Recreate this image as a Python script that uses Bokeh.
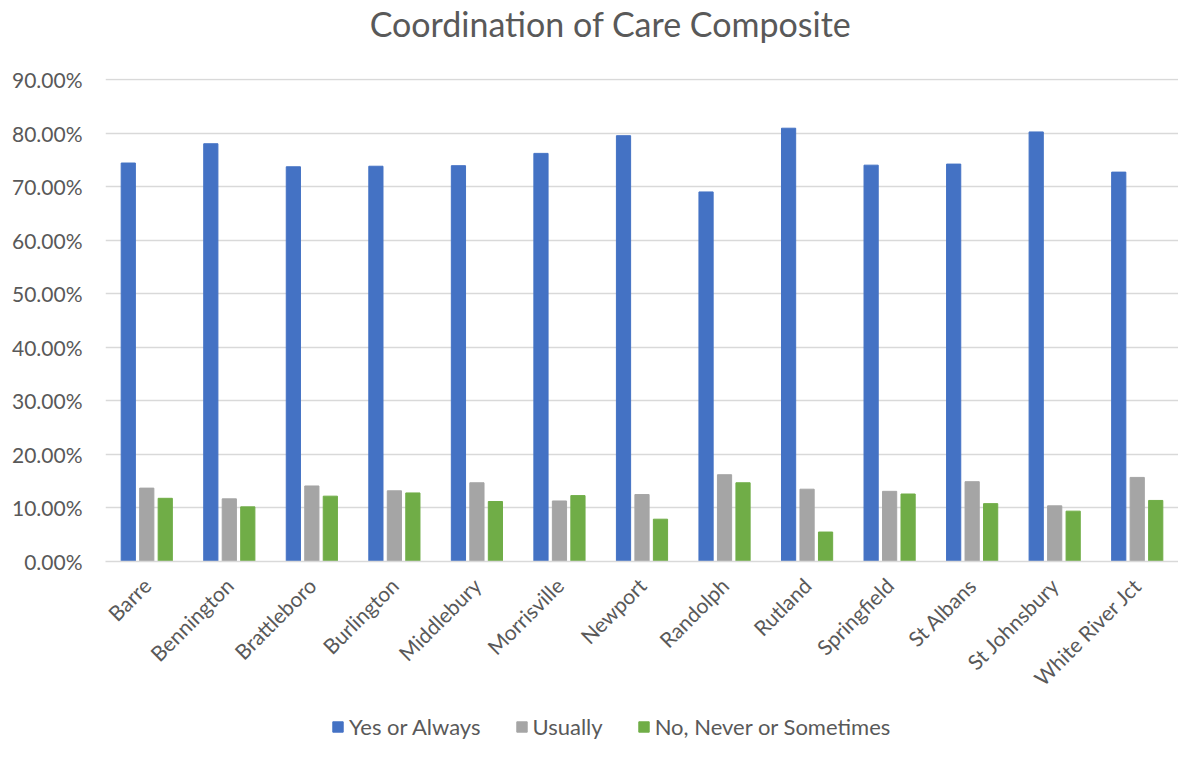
from math import pi
from bokeh.plotting import figure
from bokeh.layouts import column
from bokeh.models import ColumnDataSource, FactorRange, Range1d, NumeralTickFormatter, Legend, LegendItem, FixedTicker, Label
from bokeh.transform import dodge
from bokeh.embed import file_html
from bokeh.resources import INLINE

categories = ["Barre", "Bennington", "Brattleboro", "Burlington", "Middlebury", "Morrisville",
              "Newport", "Randolph", "Rutland", "Springfield", "St Albans", "St Johnsbury",
              "White River Jct"]
yes_always = [0.744, 0.780, 0.737, 0.738, 0.739, 0.762, 0.795, 0.690, 0.809, 0.740, 0.742, 0.802, 0.727]
usually = [0.137, 0.117, 0.141, 0.132, 0.147, 0.113, 0.125, 0.162, 0.135, 0.131, 0.149, 0.104, 0.157]
no_never = [0.118, 0.102, 0.122, 0.128, 0.112, 0.123, 0.079, 0.147, 0.055, 0.126, 0.108, 0.094, 0.114]
series_cols = ["yes", "usu", "no"]
series_names = ["Yes or Always", "Usually", "No, Never or Sometimes"]
series_colors = ["#4472C4", "#A5A5A5", "#70AD47"]
y_ticks = [0.0, 0.1, 0.2, 0.3, 0.4, 0.5, 0.6, 0.7, 0.8, 0.9]
title_text = "Coordination of Care Composite"

TEXT = "#595959"
FONT = "Lato"
W = 1178
LEFT = 105

source = ColumnDataSource(data=dict(cat=categories, yes=yes_always, usu=usually, no=no_never))

# title strip (its frame is aligned with the main chart's frame in the column)
tp = figure(width=W, height=64, x_range=Range1d(0, 1), y_range=Range1d(0, 1),
            output_backend="svg", toolbar_location=None,
            min_border_left=0, min_border_right=0, min_border_top=0, min_border_bottom=0)
tp.axis.visible = False
tp.grid.visible = False
tp.outline_line_color = None
tp.add_layout(Label(x=505, y=41, x_units="screen", y_units="screen", text=title_text,
                    text_align="center", text_baseline="middle", text_font=FONT,
                    text_font_size="34px", text_color=TEXT))

# main chart
p = figure(width=W, height=637, x_range=FactorRange(*categories, range_padding=0),
           y_range=Range1d(0, 0.9018), output_backend="svg", toolbar_location=None,
           min_border_left=LEFT, min_border_right=0, min_border_top=14, min_border_bottom=135)

offsets = [-0.224, 0.0, 0.224]
for col, off, color in zip(series_cols, offsets, series_colors):
    p.vbar(x=dodge("cat", off, range=p.x_range), top=col, width=0.172, source=source,
           fill_color=color, line_color=color)

p.yaxis.ticker = FixedTicker(ticks=y_ticks)
p.yaxis.formatter = NumeralTickFormatter(format="0.00%")
p.yaxis.axis_line_color = None
p.yaxis.major_tick_line_color = None
p.yaxis.major_tick_out = 0
p.yaxis.major_tick_in = 0
p.yaxis.minor_tick_line_color = None
p.yaxis.major_label_text_font = FONT
p.yaxis.major_label_text_font_size = "21px"
p.yaxis.major_label_text_color = TEXT
p.yaxis.major_label_standoff = 23

p.xaxis.axis_line_color = "#D9D9D9"
p.xaxis.axis_line_width = 1.5
p.xaxis.major_tick_line_color = None
p.xaxis.major_tick_out = 0
p.xaxis.major_tick_in = 0
p.xaxis.minor_tick_line_color = None
p.xaxis.major_label_orientation = pi / 4
p.xaxis.major_label_text_font = FONT
p.xaxis.major_label_text_font_size = "21px"
p.xaxis.major_label_text_color = TEXT
p.xaxis.major_label_standoff = 20

p.xgrid.grid_line_color = None
p.ygrid.grid_line_color = "#D9D9D9"
p.ygrid.grid_line_width = 1.5
p.outline_line_color = None

# legend strip (bars fall outside its visible y range; only the legend shows)
lg = figure(width=W, height=40, x_range=FactorRange(*categories), y_range=Range1d(5, 6),
            output_backend="svg", toolbar_location=None,
            min_border_left=0, min_border_right=0, min_border_top=0, min_border_bottom=0)
lg.axis.visible = False
lg.grid.visible = False
lg.outline_line_color = None
items = []
for col, name, color in zip(series_cols, series_names, series_colors):
    r = lg.vbar(x="cat", top=col, width=0.1, source=source, fill_color=color, line_color=color)
    items.append(LegendItem(label=name, renderers=[r]))
legend = Legend(items=items, orientation="horizontal", location=(226, 1),
                label_text_font=FONT, label_text_font_size="22px", label_text_color=TEXT,
                glyph_width=13, glyph_height=13, spacing=34, label_standoff=5,
                border_line_color=None, background_fill_alpha=0, margin=0, padding=2)
lg.add_layout(legend, "center")

layout = column(tp, p, lg, spacing=0)
open("out.html", "w").write(file_html(layout, INLINE))
